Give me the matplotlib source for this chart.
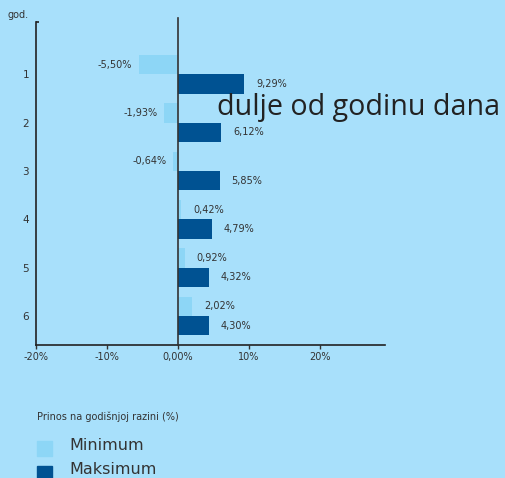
import matplotlib
matplotlib.use("Agg")
import matplotlib.pyplot as plt
import numpy as np

# data
years = [1, 2, 3, 4, 5, 6]
minimum = [-5.50, -1.93, -0.64, 0.42, 0.92, 2.02]
maximum = [9.29, 6.12, 5.85, 4.79, 4.32, 4.30]
xticks = [-20, -10, 0, 10, 20]
xtick_labels = ["-20%", "-10%", "0,00%", "10%", "20%"]

BG = "#a8e0fb"
LIGHT = "#8dd6f6"
DARK = "#005292"
TXT = "#333333"


def fmt(v):
    return f"{v:.2f}%".replace(".", ",")


fig = plt.figure(figsize=(5.05, 4.78), dpi=100, facecolor=BG)
ax = fig.add_axes([36 / 505, 1 - 345 / 478, (385 - 36) / 505, (345 - 22) / 478])
ax.set_facecolor(BG)

y = np.array(years, dtype=float)
ax.barh(y - 0.2, minimum, height=0.4, color=LIGHT)
ax.barh(y + 0.2, maximum, height=0.4, color=DARK)

# value labels
for yy, vals in ((y - 0.2, minimum), (y + 0.2, maximum)):
    for pos, v in zip(yy, vals):
        if v < 0:
            ax.annotate(fmt(v), (v, pos), xytext=(-7, 0), textcoords="offset pixels",
                        ha="right", va="center", fontsize=7, color=TXT)
        else:
            ax.annotate(fmt(v), (v, pos), xytext=(12, 0), textcoords="offset pixels",
                        ha="left", va="center", fontsize=7, color=TXT)

ax.axvline(0, color=TXT, lw=1.2, ymin=0, ymax=1.012, clip_on=False, zorder=3)
# little cap at the top of the left axis line
ax.plot([0, 0.01], [1, 1], transform=ax.transAxes, color="#222222", lw=1.2,
        clip_on=False, solid_capstyle="butt")

ax.set_xlim(-20, 29.15)
ax.set_ylim(6.6, -0.083)
ax.set_xticks(xticks)
ax.set_xticklabels(xtick_labels)
ax.set_yticks(years)
ax.tick_params(axis="x", length=3, width=1, color=TXT, labelsize=7, labelcolor=TXT, pad=2)
ax.tick_params(axis="y", length=0, labelsize=7.5, labelcolor=TXT, pad=5)

for s in ("top", "right"):
    ax.spines[s].set_visible(False)
for s in ("left", "bottom"):
    ax.spines[s].set_color("#222222")
    ax.spines[s].set_linewidth(1.2)

fig.text(7 / 505, 1 - 15 / 478, "god.", fontsize=7, color=TXT, va="center")
fig.text(217 / 505, 1 - 108 / 478, "dulje od godinu dana", fontsize=20.6,
         family="Open Sans", color="#222222", va="center")

# legend drawn by hand
fig.text(37 / 505, 1 - 417 / 478, "Prinos na godišnjoj razini (%)", fontsize=7,
         color=TXT, va="center")
fig.patches.append(plt.Rectangle((37 / 505, 1 - 456 / 478), 15 / 505, 15 / 478,
                                 transform=fig.transFigure, color=LIGHT))
fig.patches.append(plt.Rectangle((37 / 505, 1 - 481 / 478), 15 / 505, 15 / 478,
                                 transform=fig.transFigure, color=DARK))
fig.text(69 / 505, 1 - 445 / 478, "Minimum", fontsize=11.5, color=TXT, va="center")
fig.text(69 / 505, 1 - 470 / 478, "Maksimum", fontsize=11.5, color=TXT, va="center")

fig.savefig("out.png", dpi=100, facecolor=BG)
